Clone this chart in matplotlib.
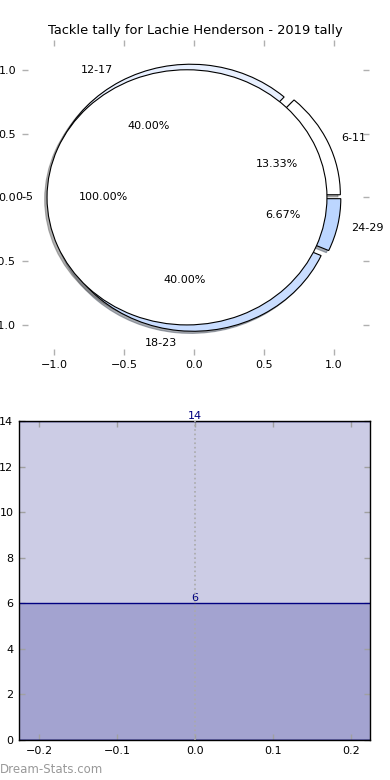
import matplotlib
matplotlib.use("Agg")
import matplotlib.pyplot as plt

# ---- data ----
title = "Tackle tally for Lachie Henderson - 2019 tally"
outer_labels = ["6-11", "12-17", "18-23", "24-29"]
outer_values = [2, 6, 6, 1]
outer_colors = ["#ffffff", "#e8f0ff", "#c9ddff", "#bcd6ff"]
inner_labels = ["0-5"]
inner_values = [1]
bar_x = [0.0, 0.0]
bar_values = [14, 6]
pie_ticks = [-1.0, -0.5, 0.0, 0.5, 1.0]
bar_yticks = [0, 2, 4, 6, 8, 10, 12, 14]
bar_xticks = [-0.2, -0.1, 0.0, 0.1, 0.2]

plt.rcParams["font.family"] = ["DejaVu Sans"]
plt.rcParams["font.size"] = 8

fig = plt.figure(figsize=(3.9, 7.8), dpi=100)

shadow = dict(ox=-0.012, oy=-0.012, shade=0.6)

# ---- pie ----
ax1 = fig.add_axes([0.056, 0.545, 0.890, 0.404])
ax1.pie(outer_values, labels=outer_labels, colors=outer_colors,
        explode=[0.05] * len(outer_values), shadow=shadow,
        autopct="%1.2f%%", startangle=0, frame=True,
        wedgeprops=dict(edgecolor="black", linewidth=0.8),
        textprops=dict(fontsize=8))
ax1.pie(inner_values, labels=inner_labels, colors=["#ffffff"],
        explode=[0.05], shadow=shadow, autopct="%1.2f%%", startangle=0,
        frame=True, wedgeprops=dict(edgecolor="black", linewidth=0.8),
        textprops=dict(fontsize=8))
ax1.set_aspect("auto")
ax1.set_xlim(-1.23, 1.25)
ax1.set_ylim(-1.235, 1.235)
ax1.set_xticks(pie_ticks)
ax1.set_yticks(pie_ticks)
for s in ax1.spines.values():
    s.set_visible(False)
ax1.tick_params(direction="in", length=4, width=1, color="#b0b0b0",
                top=True, right=True, labelsize=8, pad=4)
ax1.set_title(title, fontsize=9.4, pad=4)

# ---- bars ----
ax2 = fig.add_axes([0.0487, 0.0513, 0.900, 0.409])
for x, v in zip(bar_x, bar_values):
    ax2.bar(x, v, width=1.0, color="navy", alpha=0.2, zorder=1)
    ax2.bar(x, v, width=1.0, fill=False, edgecolor="navy", linewidth=1.0, zorder=2)
    ax2.text(x, v, str(v), ha="center", va="bottom", color="navy", fontsize=8)
ax2.axvline(bar_x[0], color="#aaaaaa", linestyle=":", linewidth=1.2, zorder=3)
ax2.set_xlim(-0.2256, 0.2244)
ax2.set_ylim(0, 14)
ax2.set_xticks(bar_xticks)
ax2.set_yticks(bar_yticks)
ax2.tick_params(direction="in", length=4, width=1, color="#a0a0a0",
                top=True, right=True, labelsize=8, pad=4)
for s in ax2.spines.values():
    s.set_linewidth(1.0)

fig.text(0.0, 0.005, "Dream-Stats.com", color="#999999", fontsize=8.5,
         ha="left", va="bottom")

fig.savefig("out.png", dpi=100)
